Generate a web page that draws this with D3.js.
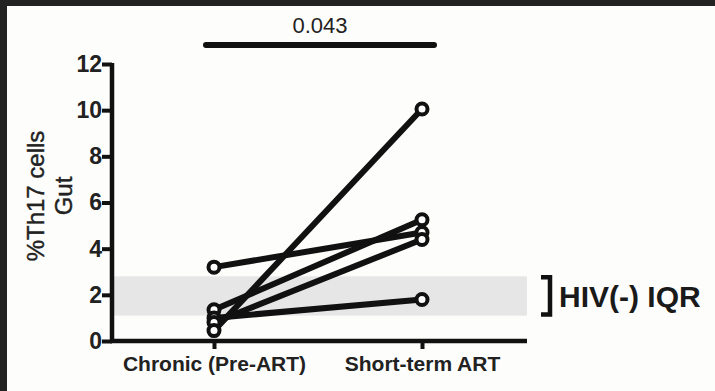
<!DOCTYPE html>
<html>
<head>
<meta charset="utf-8">
<script src="https://cdn.jsdelivr.net/npm/d3@7"></script>
<style>
  body { margin: 0; background: #222; }
  svg { display: block; }
  text { font-family: "Liberation Sans", Arial, sans-serif; }
</style>
</head>
<body>
<div id="chart"></div>
<script>
// groups on the x axis
const groups = ["Chronic (Pre-ART)", "Short-term ART"];
// paired values, one entry per subject
const chronicVals = [3.2, 1.35, 1.0, 0.8, 0.45];
const artVals = [4.7, 5.25, 1.8, 4.4, 10.05];
// HIV(-) interquartile range
const iqr = [1.1, 2.8];
const yTicks = [0, 2, 4, 6, 8, 10, 12];
const pValue = "0.043";

const W = 715, H = 391;
const svg = d3.select("#chart").append("svg")
    .attr("width", W).attr("height", H);

// white panel inside the dark frame
svg.append("rect").attr("x", 7).attr("y", 6)
    .attr("width", W - 7).attr("height", H - 6)
    .attr("fill", "#fdfdfb");

const x = d3.scalePoint().domain(groups).range([214, 422]);
const y = d3.scaleLinear().domain([0, 12]).range([341, 64]);
const axisLeftX = 112, axisRightX = 527;

// IQR band
svg.append("rect")
    .attr("x", axisLeftX).attr("width", axisRightX - axisLeftX)
    .attr("y", y(iqr[1])).attr("height", y(iqr[0]) - y(iqr[1]))
    .attr("fill", "#e6e6e6");

// y axis
const yAxis = svg.append("g")
    .attr("transform", "translate(" + axisLeftX + ",0)")
    .call(d3.axisLeft(y).tickValues(yTicks).tickSize(10).tickPadding(0).tickFormat(d3.format("d")));
yAxis.select(".domain").attr("stroke", "#111").attr("stroke-width", 4.5)
    .attr("d", "M0," + (y(12) - 1) + "V" + (y(0) + 2));
yAxis.selectAll(".tick line").attr("stroke", "#111").attr("stroke-width", 4);
yAxis.selectAll(".tick text").attr("fill", "#222")
    .style("font-size", "23px").style("font-weight", "bold");

// x axis
const xAxis = svg.append("g")
    .attr("transform", "translate(0," + y(0) + ")")
    .call(d3.axisBottom(x).tickSize(8).tickPadding(7));
xAxis.select(".domain").attr("stroke", "#111").attr("stroke-width", 4.5)
    .attr("d", "M" + (axisLeftX - 2) + ",0H" + axisRightX);
xAxis.selectAll(".tick line").attr("stroke", "#111").attr("stroke-width", 4);
xAxis.selectAll(".tick text").attr("fill", "#222")
    .style("font-size", "21px").style("font-weight", "bold");

// paired lines
const pairs = chronicVals.map((v, i) => [v, artVals[i]]);
svg.append("g").selectAll("line")
    .data(pairs).enter().append("line")
    .attr("x1", x(groups[0])).attr("y1", d => y(d[0]))
    .attr("x2", x(groups[1])).attr("y2", d => y(d[1]))
    .attr("stroke", "#111").attr("stroke-width", 6);

// points
const pts = [];
chronicVals.forEach(v => pts.push([groups[0], v]));
artVals.forEach(v => pts.push([groups[1], v]));
svg.append("g").selectAll("circle")
    .data(pts).enter().append("circle")
    .attr("cx", d => x(d[0])).attr("cy", d => y(d[1]))
    .attr("r", 5.5).attr("fill", "#fff")
    .attr("stroke", "#111").attr("stroke-width", 4);

// significance bar
svg.append("line")
    .attr("x1", 206).attr("x2", 434).attr("y1", 45).attr("y2", 45)
    .attr("stroke", "#111").attr("stroke-width", 6).attr("stroke-linecap", "round");
svg.append("text").attr("x", 320).attr("y", 33)
    .attr("text-anchor", "middle").attr("fill", "#222")
    .style("font-size", "22px").text(pValue);

// y label
const yl = svg.append("text")
    .attr("transform", "translate(44,196) rotate(-90)")
    .attr("text-anchor", "middle").attr("fill", "#222")
    .attr("stroke", "#222").attr("stroke-width", 0.4)
    .style("font-size", "24px");
yl.append("tspan").attr("x", 0).attr("dy", 0).text("%Th17 cells");
yl.append("tspan").attr("x", 0).attr("dy", 28).text("Gut");

// IQR bracket and label
const by0 = y(iqr[1]), by1 = y(iqr[0]);
svg.append("path")
    .attr("d", "M541," + (by0 + 1) + "H550V" + (by1 - 1) + "H541")
    .attr("fill", "none").attr("stroke", "#111").attr("stroke-width", 4.5);
svg.append("text").attr("x", 559).attr("y", (by0 + by1) / 2 + 11)
    .attr("fill", "#1a1a1a").style("font-size", "30px").style("font-weight", "bold")
    .text("HIV(-) IQR");
</script>
</body>
</html>
